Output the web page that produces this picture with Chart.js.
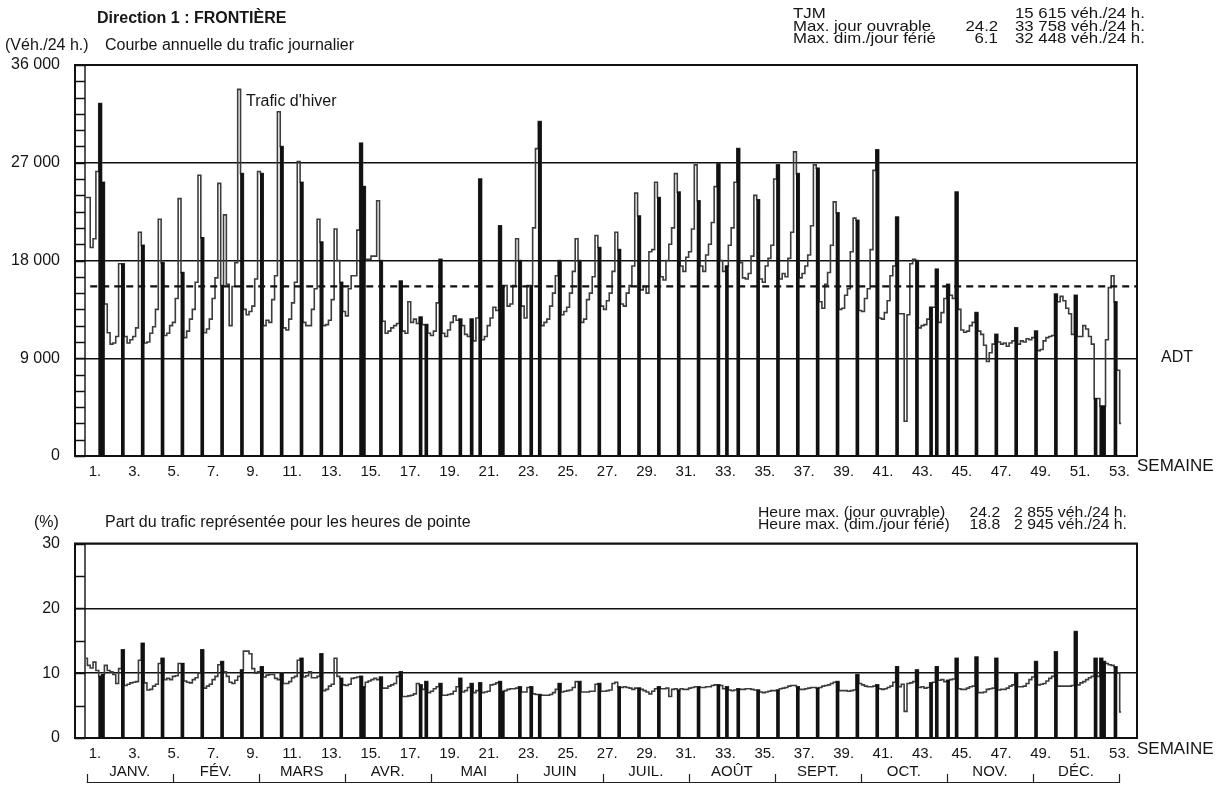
<!DOCTYPE html>
<html lang="fr">
<head>
<meta charset="utf-8">
<title>Direction 1 : FRONTIÈRE</title>
<script src="https://cdn.jsdelivr.net/npm/chart.js@4.4.1/dist/chart.umd.min.js"></script>
<style>
  html, body { margin: 0; padding: 0; background: #fff; }
  body { position: relative; width: 1220px; height: 785px; overflow: hidden;
         font-family: "Liberation Sans", Arial, Helvetica, sans-serif; color: #151515; }
  .txt { position: absolute; white-space: pre; line-height: 1; font-size: 16px; }
  .info { font-size: 15px; transform: scaleX(1.12); transform-origin: 0 50%; }
  .peak { font-size: 15px; transform: scaleX(1.05); transform-origin: 0 50%; }
  .num { text-align: right; transform-origin: 100% 50%; }
  canvas { position: absolute; left: 0; }
</style>
</head>
<body>
<canvas id="traffic" width="1220" height="485" style="top:0"></canvas>
<canvas id="share" width="1220" height="300" style="top:485px"></canvas>

<div class="txt" style="left:97px;top:10px;font-weight:bold">Direction 1 : FRONTIÈRE</div>
<div class="txt" style="left:5px;top:37px">(Véh./24 h.)</div>
<div class="txt" style="left:105px;top:37px">Courbe annuelle du trafic journalier</div>
<div class="txt" style="left:246px;top:93px">Trafic d'hiver</div>
<div class="txt" style="left:1161px;top:349px">ADT</div>
<div class="txt" style="left:1137px;top:457px;font-size:17px">SEMAINE</div>

<div class="txt info" style="left:793px;top:5px">TJM</div>
<div class="txt info" style="left:1015px;top:5px">15 615 véh./24 h.</div>
<div class="txt info" style="left:793px;top:18px">Max. jour ouvrable</div>
<div class="txt info num" style="right:222px;top:18px">24.2</div>
<div class="txt info" style="left:1015px;top:18px">33 758 véh./24 h.</div>
<div class="txt info" style="left:793px;top:30px">Max. dim./jour férié</div>
<div class="txt info num" style="right:222px;top:30px">6.1</div>
<div class="txt info" style="left:1015px;top:30px">32 448 véh./24 h.</div>

<div class="txt" style="left:34px;top:514px">(%)</div>
<div class="txt" style="left:105px;top:514px">Part du trafic représentée pour les heures de pointe</div>
<div class="txt peak" style="left:758px;top:504px">Heure max. (jour ouvrable)</div>
<div class="txt peak num" style="right:220px;top:504px">24.2</div>
<div class="txt peak" style="left:1014px;top:504px">2 855 véh./24 h.</div>
<div class="txt peak" style="left:758px;top:516px">Heure max. (dim./jour férié)</div>
<div class="txt peak num" style="right:220px;top:516px">18.8</div>
<div class="txt peak" style="left:1014px;top:516px">2 945 véh./24 h.</div>
<div class="txt" style="left:1137px;top:740px;font-size:17px">SEMAINE</div>

<script>
// Daily traffic (veh./24 h), one row per week, Monday..Sunday
const trafficByWeek = [
  [23800, 23800, 19200, 20000, 26200, 32448, 25200],
  [14000, 11350, 10300, 10400, 11000, 17700, 17700],
  [11000, 10400, 10700, 11000, 11800, 20600, 19400],
  [10400, 10500, 11300, 11900, 13500, 21800, 17800],
  [11100, 11300, 12000, 12300, 14500, 23700, 16900],
  [10900, 11500, 12600, 13500, 16000, 25850, 20100],
  [11350, 11700, 12600, 14500, 16400, 25100, 15700],
  [22200, 15800, 12000, 15600, 17800, 33758, 26000],
  [13500, 13000, 13300, 13800, 16300, 26200, 26000],
  [12000, 12500, 12300, 14400, 16600, 31700, 28500],
  [11800, 11600, 12600, 14100, 16000, 27100, 25200],
  [12300, 12000, 12000, 13500, 15400, 21800, 19700],
  [12000, 12100, 12500, 14400, 20900, 18000, 16000],
  [13300, 12900, 15400, 16600, 16600, 20800, 28800],
  [24800, 18100, 18100, 18400, 18400, 23500, 18000],
  [12400, 11300, 11500, 11800, 12000, 12200, 16100],
  [11500, 11300, 14200, 12300, 12600, 12200, 12800],
  [12100, 12100, 11300, 11100, 11500, 14100, 18100],
  [11300, 11000, 11600, 12300, 12900, 12500, 12600],
  [12000, 11200, 11000, 12600, 10600, 12700, 25500],
  [10700, 11000, 12000, 12700, 13700, 13400, 21200],
  [15700, 15700, 13800, 14000, 15700, 20000, 18000],
  [13800, 12700, 15700, 15700, 21000, 28300, 30800],
  [12000, 12300, 12600, 13800, 15000, 16600, 18000],
  [13000, 13300, 13700, 15000, 17000, 20000, 18000],
  [12300, 12600, 14400, 15000, 16500, 20300, 19200],
  [13800, 13500, 14300, 15000, 17000, 20600, 19000],
  [14000, 13800, 15000, 15700, 17500, 24200, 22100],
  [15300, 15600, 15000, 18800, 19000, 25200, 23800],
  [16500, 16200, 18000, 19500, 21000, 26000, 24300],
  [17500, 17000, 18300, 18800, 20900, 26800, 23500],
  [17500, 17000, 18500, 19500, 21500, 24800, 26900],
  [18000, 17000, 17500, 19400, 21000, 25200, 28300],
  [17800, 16400, 16300, 16800, 18400, 24000, 23600],
  [16300, 16000, 17500, 18200, 19400, 25500, 26800],
  [16300, 16800, 16500, 18200, 20600, 28000, 26000],
  [16400, 16800, 17500, 18500, 21200, 26800, 26500],
  [14200, 13600, 15800, 16900, 19400, 23400, 22400],
  [13500, 13600, 14800, 15400, 18800, 21900, 21700],
  [13400, 13300, 14500, 15400, 19000, 26300, 28200],
  [12700, 12600, 13200, 14300, 16600, 17500, 22000],
  [13100, 13100,  3200, 13000, 17700, 18100, 18000],
  [11800, 12000, 12100, 12600, 13700, 13700, 17200],
  [12300, 13200, 14500, 15800, 14800, 14500, 24300],
  [13500, 11600, 11400, 11500, 12000, 12300, 13200],
  [11500, 11200, 10200,  8700,  9500, 10300, 11200],
  [10500, 10300, 10400, 10100, 10400, 10600, 11800],
  [10300, 10600, 10500, 10800, 10700, 10900, 11500],
  [ 9700,  9800, 10600, 10900, 11000, 11100, 14900],
  [14200, 14700, 14300, 13600, 13100, 11200, 14800],
  [11000, 11000, 12000, 11700, 11000, 10300,  5300],
  [ 5300,  4600,  4600, 10700, 15500, 16600, 14200],
  [ 7900,  3000]
];

// Share of the daily traffic carried in the peak hour (%), Monday..Sunday
const peakShareByWeek = [
  [12.3, 11.2, 10.8, 11.7, 10.4, 9.5, 9.8],
  [11.2, 10.4, 10.2, 9.8, 8.4, 10.7, 13.6],
  [8.1, 8.3, 8.5, 8.6, 8.7, 12.0, 14.6],
  [8.5, 7.4, 7.5, 8.0, 8.3, 11.5, 12.3],
  [9.0, 9.2, 9.0, 9.5, 9.6, 11.5, 11.5],
  [8.8, 8.6, 8.5, 9.0, 9.3, 10.0, 13.6],
  [7.7, 8.0, 8.3, 9.0, 9.5, 11.3, 11.8],
  [10.2, 9.5, 8.6, 8.4, 8.9, 9.5, 10.5],
  [13.4, 13.4, 13.0, 10.7, 10.0, 10.2, 11.0],
  [9.4, 9.7, 9.8, 9.8, 9.2, 9.0, 10.0],
  [8.4, 8.4, 8.7, 9.3, 9.5, 12.0, 12.3],
  [9.4, 9.6, 10.2, 9.3, 9.3, 9.5, 13.0],
  [7.3, 7.5, 8.0, 8.3, 12.3, 9.5, 9.2],
  [8.2, 8.1, 8.3, 9.2, 9.3, 9.4, 9.5],
  [7.9, 8.6, 8.8, 9.0, 9.2, 9.0, 9.4],
  [7.7, 7.7, 8.0, 8.2, 8.4, 9.5, 10.2],
  [6.4, 6.4, 6.5, 6.6, 6.8, 8.4, 8.2],
  [7.5, 8.7, 7.0, 7.2, 7.6, 7.9, 8.4],
  [6.6, 6.6, 6.7, 6.8, 7.2, 7.9, 9.2],
  [7.1, 7.3, 7.8, 8.4, 7.0, 7.3, 8.5],
  [7.0, 7.1, 7.2, 8.2, 8.3, 8.5, 8.7],
  [7.2, 7.3, 7.5, 7.6, 7.6, 7.7, 7.9],
  [7.1, 7.1, 7.8, 7.9, 6.8, 6.7, 6.7],
  [6.6, 6.6, 6.6, 6.7, 7.0, 7.5, 8.4],
  [7.1, 7.2, 7.3, 7.4, 7.8, 8.7, 8.7],
  [7.1, 7.1, 7.1, 7.2, 7.2, 8.3, 8.4],
  [7.2, 7.2, 7.3, 7.4, 8.4, 8.6, 7.9],
  [7.8, 7.9, 7.8, 7.7, 7.5, 7.7, 7.7],
  [7.5, 7.3, 7.1, 6.8, 7.2, 7.6, 7.9],
  [7.6, 7.6, 7.7, 6.4, 7.5, 7.6, 7.4],
  [7.6, 7.5, 7.5, 7.7, 7.8, 7.9, 7.9],
  [7.8, 7.8, 7.9, 7.9, 8.1, 8.2, 8.2],
  [8.1, 7.6, 7.9, 7.4, 7.3, 7.4, 7.6],
  [7.5, 7.5, 7.6, 7.6, 7.5, 7.4, 7.4],
  [7.1, 7.0, 7.1, 7.2, 7.3, 7.3, 7.4],
  [7.6, 7.7, 7.8, 8.0, 8.1, 8.1, 7.9],
  [7.5, 7.5, 7.6, 7.7, 7.8, 7.8, 7.7],
  [7.8, 8.0, 8.1, 8.2, 8.4, 8.6, 8.7],
  [7.3, 7.3, 7.3, 7.2, 7.3, 7.4, 9.8],
  [8.4, 8.2, 8.0, 7.9, 7.9, 8.0, 8.2],
  [7.6, 7.5, 7.6, 7.8, 8.0, 8.6, 11.0],
  [7.9, 8.3, 4.1, 8.4, 8.5, 8.7, 10.5],
  [7.8, 7.9, 7.7, 7.8, 8.5, 8.6, 11.0],
  [8.9, 9.0, 8.7, 8.9, 9.0, 9.1, 12.3],
  [7.6, 7.5, 7.5, 7.7, 7.9, 8.0, 12.5],
  [7.0, 7.0, 7.1, 7.5, 7.6, 7.7, 12.3],
  [7.4, 7.5, 7.5, 7.7, 8.0, 8.2, 10.0],
  [7.9, 7.9, 8.0, 8.4, 9.0, 9.4, 11.8],
  [8.2, 8.3, 8.4, 8.8, 9.2, 9.5, 13.3],
  [8.0, 8.0, 8.0, 8.0, 8.0, 8.1, 16.4],
  [8.2, 8.5, 8.7, 9.0, 9.3, 9.5, 12.3],
  [9.5, 12.3, 11.8, 11.5, 11.3, 11.2, 11.0],
  [10.0, 4.0]
];

// Public holidays (day of year) drawn like Sundays
const holidays = [6, 99, 121, 137, 148, 158, 227, 299, 305, 359, 360];
const weekLabels = [1, 3, 5, 7, 9, 11, 13, 15, 17, 19, 21, 23, 25, 27, 29, 31, 33, 35, 37, 39, 41, 43, 45, 47, 49, 51, 53];
const months = ['JANV.', 'FÉV.', 'MARS', 'AVR.', 'MAI', 'JUIN', 'JUIL.', 'AOÛT', 'SEPT.', 'OCT.', 'NOV.', 'DÉC.'];
const trafficTicks = [0, 9000, 18000, 27000, 36000];
const shareTicks = [0, 10, 20, 30];
const tjm = 15615;

const FONT = '"Liberation Sans", Arial, Helvetica, sans-serif';
Chart.defaults.font.family = FONT;
Chart.defaults.color = '#151515';

const toPoints = rows => rows.flat().map((v, i) => ({ x: i + 1, y: v }));
const markedDays = n => {
  const out = [];
  for (let d = 1; d <= n; d++) if (d % 7 === 0 || holidays.includes(d)) out.push(d);
  return out;
};
const spaced = v => String(v).replace(/\B(?=(\d{3})+(?!\d))/g, ' ');

// Frame plus the graduated strip on the left edge of the plot
const framePlugin = {
  id: 'frame',
  afterDraw(chart, args, opts) {
    const { ctx, chartArea: a } = chart;
    const y = chart.scales.y;
    ctx.save();
    ctx.strokeStyle = '#111';
    ctx.lineWidth = 1.4;
    ctx.beginPath();
    ctx.moveTo(a.left + 10, a.top);
    ctx.lineTo(a.left + 10, a.bottom);
    for (let v = y.min; v <= y.max + 1e-9; v += opts.step) {
      const py = Math.round(y.getPixelForValue(v)) + 0.5;
      ctx.moveTo(a.left, py);
      ctx.lineTo(a.left + 10, py);
    }
    ctx.stroke();
    ctx.lineWidth = 2;
    ctx.strokeRect(a.left, a.top, a.right - a.left, a.bottom - a.top);
    ctx.restore();
  }
};

// Month strip under the lower plot
const monthPlugin = {
  id: 'monthRow',
  afterDraw(chart) {
    const s = chart.scales.xm;
    const ctx = chart.ctx;
    ctx.save();
    ctx.strokeStyle = '#222';
    ctx.lineWidth = 1.2;
    ctx.beginPath();
    ctx.moveTo(s.getPixelForValue(0), 297.5);
    ctx.lineTo(s.getPixelForValue(months.length), 297.5);
    for (let i = 0; i <= months.length; i++) {
      const x = Math.round(s.getPixelForValue(i)) + 0.5;
      ctx.moveTo(x, 289);
      ctx.lineTo(x, 298);
    }
    ctx.stroke();
    ctx.fillStyle = '#151515';
    ctx.font = '15px ' + FONT;
    ctx.textAlign = 'center';
    ctx.textBaseline = 'middle';
    months.forEach((m, i) => ctx.fillText(m, s.getPixelForValue(i + 0.5), 287));
    ctx.restore();
  }
};

function buildChart(canvasId, rows, yTicks, yMax, ladderStep, padding, extra, plugins) {
  const pts = toPoints(rows);
  const byDay = new Map(pts.map(p => [p.x, p.y]));
  const bars = markedDays(pts.length).map(d => ({ x: d, y: byDay.get(d) }));
  const datasets = [
    {
      type: 'bar', label: 'dim./fériés', data: bars, xAxisID: 'x', yAxisID: 'y',
      backgroundColor: '#111', barThickness: 3, grouped: false, order: 1
    },
    {
      type: 'line', label: 'jours', data: pts, xAxisID: 'x', yAxisID: 'y',
      stepped: 'middle', borderColor: '#3c3c3c', borderWidth: 1.6,
      pointRadius: 0, fill: false, order: 2
    }
  ].concat(extra || []);

  return new Chart(document.getElementById(canvasId), {
    type: 'line',
    data: { datasets },
    options: {
      responsive: false,
      animation: false,
      devicePixelRatio: 1,
      layout: { padding },
      plugins: { legend: { display: false }, tooltip: { enabled: false }, frame: { step: ladderStep } },
      scales: {
        x: { type: 'linear', display: false, min: -2.87, max: 371.6, offset: false },
        xm: { type: 'linear', display: false, min: -0.136, max: 12.209, offset: false },
        xw: {
          type: 'linear', position: 'bottom', min: -0.015, max: 53.89, offset: false,
          grid: { display: false, drawTicks: false }, border: { display: false },
          afterBuildTicks: s => { s.ticks = weekLabels.map(v => ({ value: v })); },
          afterFit: s => { s.height = 22; },
          ticks: { autoSkip: false, maxRotation: 0, padding: 7, font: { size: 15 }, callback: v => v + '.' }
        },
        y: {
          type: 'linear', min: 0, max: yMax,
          afterBuildTicks: s => { s.ticks = yTicks.map(v => ({ value: v })); },
          afterFit: s => { s.width = 75; },
          grid: { color: '#111', lineWidth: 1.5, drawTicks: false },
          border: { display: false },
          ticks: { padding: 15, font: { size: 16 }, callback: v => spaced(v) }
        }
      }
    },
    plugins: [framePlugin].concat(plugins || [])
  });
}

buildChart('traffic', trafficByWeek, trafficTicks, 36000, 1500,
  { left: 0, right: 83, top: 65, bottom: 7 },
  [{
    type: 'line', label: 'TJM', xAxisID: 'x', yAxisID: 'y',
    data: [{ x: 2.5, y: tjm }, { x: 371.6, y: tjm }],
    borderColor: '#111', borderWidth: 2.2, borderDash: [7, 5], pointRadius: 0, order: 0
  }]);

buildChart('share', peakShareByWeek, shareTicks, 30, 5,
  { left: 0, right: 83, top: 58.5, bottom: 25 }, [], [monthPlugin]);
</script>
</body>
</html>
